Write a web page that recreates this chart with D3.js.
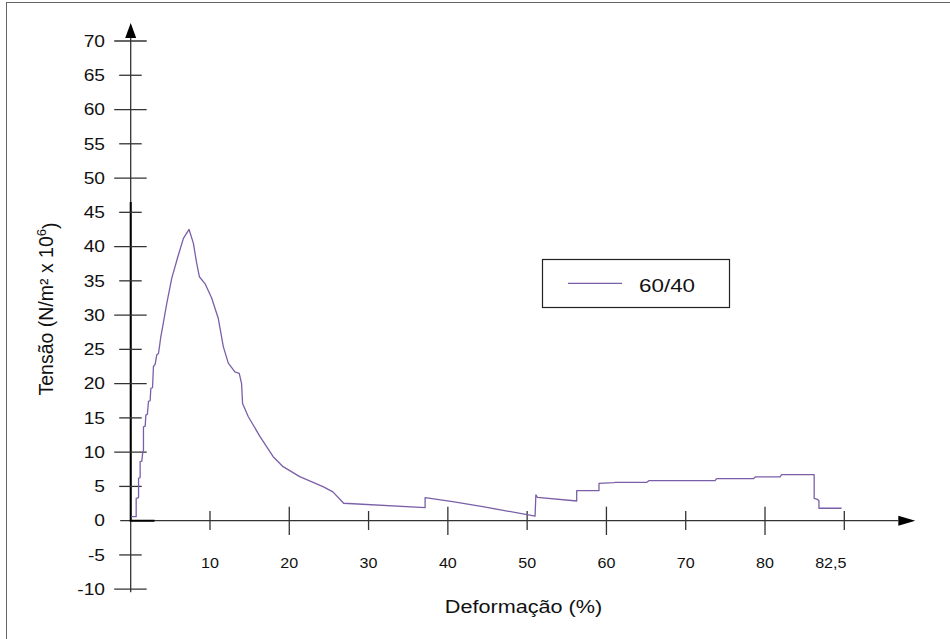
<!DOCTYPE html>
<html>
<head>
<meta charset="utf-8">
<script src="https://cdn.jsdelivr.net/npm/d3@7"></script>
<style>
    body { margin: 0; background: #fff; }
    svg { display: block; font-family: "Liberation Sans", Arial, sans-serif; }
</style>
</head>
<body>
<div id="chart"></div>
<script>
// 60/40 curve (strain %, stress N/m2 x 10^6)
var strain = [0.06, 0.69, 0.69, 0.99, 0.99, 1.19, 1.19, 1.40, 1.53, 1.61, 1.61, 1.83, 1.91, 2.10, 2.24,
    2.45, 2.54, 2.75, 2.87, 3.08, 3.29, 3.50, 3.63, 3.79, 4.00, 4.55, 5.18, 6.02, 6.65, 7.36,
    7.90, 8.32, 8.66, 9.37, 10.21, 11.05, 11.68, 12.31, 13.14, 13.69, 13.98, 14.11, 14.82, 16.29,
    17.97, 19.22, 21.32, 24.25, 25.5, 26.86, 37.13, 37.13, 40.6, 44.4, 51.0, 51.1, 51.3, 56.25,
    56.25, 59.06, 59.06, 60.94, 61.15, 65.1, 65.35, 73.7, 73.9, 78.55, 78.77, 81.9, 82.1, 86.2,
    86.2, 86.6, 86.8, 86.8, 89.66];
var stress = [0.58, 0.58, 3.27, 3.37, 6.18, 6.3, 8.61, 8.7, 10.07, 10.2, 13.7, 13.8, 15.4, 15.5, 17.4,
    17.5, 19.3, 19.4, 22.5, 22.8, 24.2, 24.4, 25.4, 26.8, 28.1, 31.7, 35.4, 38.8, 41.2, 42.5,
    40.5, 37.6, 35.6, 34.6, 32.5, 29.5, 25.4, 23.0, 21.7, 21.5, 20.0, 17.1, 15.2, 12.3,
    9.34, 7.88, 6.42, 4.96, 4.2, 2.54, 1.90, 3.36, 2.77, 2.04, 0.68, 3.75, 3.41, 2.87,
    4.38, 4.38, 5.45, 5.55, 5.6, 5.6, 5.84, 5.84, 6.13, 6.13, 6.38, 6.38, 6.71, 6.71,
    3.27, 3.12, 2.92, 1.81, 1.81];

var xTicks = [10, 20, 30, 40, 50, 60, 70, 80, 90];
var xTickLabels = ["10", "20", "30", "40", "50", "60", "70", "80", "82,5"];
var yTicks = [-10, -5, 0, 5, 10, 15, 20, 25, 30, 35, 40, 45, 50, 55, 60, 65, 70];
var seriesName = "60/40";
var xTitle = "Deformação (%)";

var width = 950,
    height = 639;
var lineColor = "#7a5fa8",
    axisColor = "#333";

var x = d3.scaleLinear().domain([0, 90]).range([130.7, 844.3]);
var y = d3.scaleLinear().domain([-10, 70]).range([589.2, 41]);

var svg = d3.select("#chart").append("svg")
    .attr("width", width)
    .attr("height", height);

// frame (only left and top edges are inside the picture)
svg.append("rect")
    .attr("x", 6.5).attr("y", 2.5)
    .attr("width", 1200).attr("height", 1200)
    .attr("fill", "none")
    .attr("stroke", "#666")
    .attr("stroke-width", 1);

var axes = svg.append("g").attr("stroke", axisColor).attr("stroke-width", 1.3);

// y axis
axes.append("line")
    .attr("x1", x(0)).attr("x2", x(0))
    .attr("y1", y(70) - 3).attr("y2", y(-10) + 3);
// x axis
axes.append("line")
    .attr("x1", x(0) - 10.5).attr("x2", x(90) + 54)
    .attr("y1", y(0)).attr("y2", y(0));

// darker bits close to the origin
axes.append("path")
    .attr("d", "M" + x(0) + "," + y(46.5) + "V" + y(0) + "H" + x(3))
    .attr("fill", "none")
    .attr("stroke", "#000")
    .attr("stroke-width", 2);

// arrow heads
svg.append("path")
    .attr("d", "M" + x(0) + "," + (y(70) - 18) + "L" + (x(0) + 5.5) + "," + (y(70) - 3) +
        "L" + (x(0) - 5.5) + "," + (y(70) - 3) + "Z")
    .attr("fill", "#000");
svg.append("path")
    .attr("d", "M" + (x(90) + 71) + "," + y(0) + "L" + (x(90) + 54) + "," + (y(0) - 5) +
        "L" + (x(90) + 54) + "," + (y(0) + 5) + "Z")
    .attr("fill", "#000");

// y ticks
axes.selectAll(".ytick")
    .data(yTicks.filter(d => d != 0))
    .enter().append("line")
    .attr("x1", d => d % 10 == 0 ? x(0) - 16.5 : x(0) - 11.5)
    .attr("x2", d => d % 10 == 0 ? x(0) + 16 : x(0) + 11)
    .attr("y1", d => y(d))
    .attr("y2", d => y(d));

// x ticks
axes.selectAll(".xtick")
    .data(xTicks)
    .enter().append("line")
    .attr("x1", d => x(d))
    .attr("x2", d => x(d))
    .attr("y1", d => d % 20 == 0 ? y(0) - 14 : y(0) - 9.7)
    .attr("y2", d => d % 20 == 0 ? y(0) + 14.3 : y(0) + 9.3);

// tick labels (the picture is stretched sideways a little)
svg.append("g")
    .selectAll("text")
    .data(yTicks)
    .enter().append("text")
    .attr("transform", d => "translate(105," + y(d) + ") scale(1.2,1)")
    .attr("dy", "0.36em")
    .attr("text-anchor", "end")
    .style("font-size", "16px")
    .attr("fill", "#111")
    .text(d => d);

svg.append("g")
    .selectAll("text")
    .data(xTicks)
    .enter().append("text")
    .attr("transform", (d, i) => "translate(" + (x(d) + (i == xTicks.length - 1 ? -13.5 : 0)) + ",568.3) scale(1.15,1)")
    .attr("text-anchor", "middle")
    .style("font-size", "14px")
    .attr("fill", "#111")
    .text((d, i) => xTickLabels[i]);

// axis titles
svg.append("text")
    .attr("transform", "translate(523.5,613) scale(1.17,1)")
    .attr("text-anchor", "middle")
    .style("font-size", "18.5px")
    .attr("fill", "#111")
    .text(xTitle);

var yt = svg.append("text")
    .attr("transform", "translate(53,309) rotate(-90)")
    .attr("text-anchor", "middle")
    .style("font-size", "19.5px")
    .attr("fill", "#111");
yt.append("tspan").text("Tensão (N/m² x 10");
yt.append("tspan").attr("dy", "-0.55em").style("font-size", "13px").text("6");
yt.append("tspan").attr("dy", "0.55em").text(")");

// the curve
var points = strain.map((d, i) => [d, stress[i]]);
var line = d3.line()
    .x(d => x(d[0]))
    .y(d => y(d[1]));

svg.append("path")
    .datum(points)
    .attr("d", line)
    .attr("fill", "none")
    .attr("stroke", lineColor)
    .attr("stroke-width", 1.3)
    .attr("stroke-linejoin", "round");

// legend
var legend = svg.append("g");
legend.append("rect")
    .attr("x", 542.5).attr("y", 259.5)
    .attr("width", 187).attr("height", 48)
    .attr("fill", "#fff")
    .attr("stroke", "#222")
    .attr("stroke-width", 1.2);
legend.append("line")
    .attr("x1", 568).attr("x2", 622)
    .attr("y1", 283.3).attr("y2", 283.3)
    .attr("stroke", lineColor)
    .attr("stroke-width", 1.3);
legend.append("text")
    .attr("transform", "translate(639,292.3) scale(1.18,1)")
    .style("font-size", "19px")
    .attr("fill", "#111")
    .text(seriesName);
</script>
</body>
</html>
